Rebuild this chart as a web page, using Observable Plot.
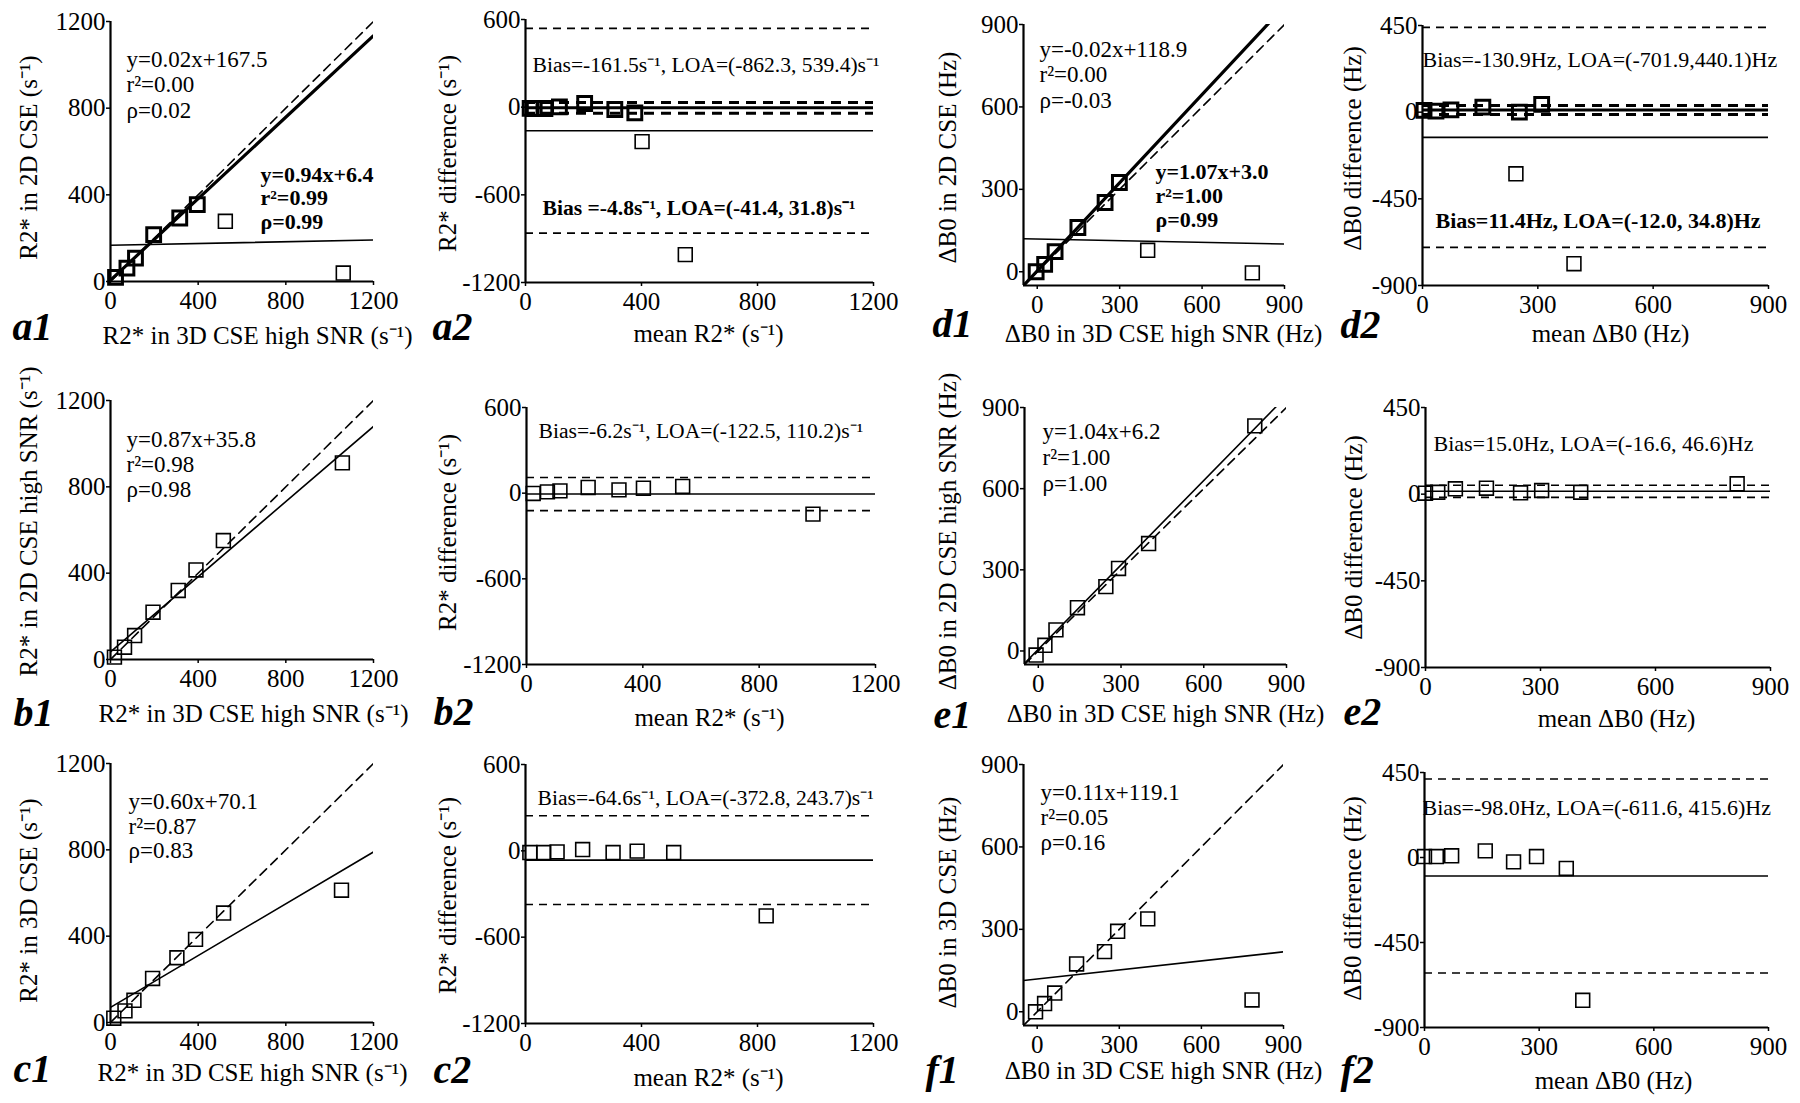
<!DOCTYPE html>
<html><head><meta charset="utf-8">
<script src="https://cdn.jsdelivr.net/npm/d3@7"></script>
<script src="https://cdn.jsdelivr.net/npm/@observablehq/plot@0.6"></script>
<style>
body{margin:0;background:#fff;}
#root{position:relative;width:1800px;height:1103px;overflow:hidden;background:#fff;}
#root svg{position:absolute;}
</style></head><body><div id="root"></div>
<script>
// ---------------- data ----------------
const r2Ticks = [0, 400, 800, 1200];
const r2DiffTicks = [-1200, -600, 0, 600];
const b0Ticks = [0, 300, 600, 900];
const b0DiffTicks = [-900, -450, 0, 450];

// a1: R2* 2D CSE vs 3D CSE high SNR
const a1_x = [23, 75, 114, 197, 316, 396, 524, 1062];
const a1_y = [19, 62, 108, 216, 293, 355, 278, 39];
const a1_bold = [1, 1, 1, 1, 1, 1, 0, 0];
const a1_fitAll = [0.02, 167.5];
const a1_fitBold = [0.94, 6.4];
// a2
const a2_mean = [16, 30, 67, 117, 204, 308, 377, 402, 551];
const a2_diff = [-8, -9, -9, 2, 25, -16, -39, -236, -1009];
const a2_bold = [1, 1, 1, 1, 1, 1, 1, 0, 0];
const a2_statsAll = [-161.5, -862.3, 539.4];
const a2_statsBold = [-4.8, -41.4, 31.8];
// d1
const d1_x = [-4, 27, 65, 148, 247, 299, 402, 783];
const d1_y = [0, 27, 73, 161, 252, 325, 78, -4];
const d1_bold = [1, 1, 1, 1, 1, 1, 0, 0];
const d1_fitAll = [-0.02, 118.9];
const d1_fitBold = [1.07, 3.0];
// d2
const d2_mean = [4, 35, 74, 157, 252, 310, 243, 394];
const d2_diff = [9, 5, 12, 26, 0, 40, -320, -787];
const d2_bold = [1, 1, 1, 1, 1, 1, 0, 0];
const d2_statsAll = [-130.9, -701.9, 440.1];
const d2_statsBold = [11.4, -12.0, 34.8];
// b1
const b1_x = [18, 64, 110, 194, 309, 390, 515, 1058];
const b1_y = [11, 57, 111, 219, 320, 415, 551, 911];
const b1_fit = [0.87, 35.8];
// b2
const b2_mean = [23, 72, 115, 212, 318, 402, 537, 985];
const b2_diff = [-2, 9, 16, 40, 23, 35, 47, -147];
const b2_stats = [-6.2, -122.5, 110.2];
// e1
const e1_x = [-8, 24, 64, 142, 245, 291, 400, 785];
const e1_y = [-15, 21, 78, 160, 238, 305, 397, 832];
const e1_fit = [1.04, 6.2];
// e2
const e2_mean = [0, 32, 78, 159, 248, 303, 405, 813];
const e2_diff = [5, 10, 28, 31, 7, 19, 10, 54];
const e2_stats = [15.0, -16.6, 46.6];
// c1
const c1_x = [15, 66, 107, 192, 303, 388, 516, 1054];
const c1_y = [20, 54, 103, 204, 300, 385, 507, 613];
const c1_fit = [0.60, 70.1];
// c2
const c2_mean = [15, 63, 109, 197, 302, 385, 511, 830];
const c2_diff = [-12, -12, -7, 9, -12, -2, -12, -452];
const c2_stats = [-64.6, -372.8, 243.7];
// f1
const f1_x = [-6, 27, 64, 144, 246, 294, 404, 785];
const f1_y = [0, 30, 68, 174, 219, 293, 338, 43];
const f1_fit = [0.11, 119.1];
// f2
const f2_mean = [0, 31, 71, 159, 233, 293, 371, 414];
const f2_diff = [5, 5, 9, 35, -23, 5, -58, -756];
const f2_stats = [-98.0, -611.6, 415.6];

// ---------------- rendering ----------------
const FONT = '"Liberation Serif","Times New Roman",Times,serif';
const root = document.getElementById("root");
const ML = 130, MR = 80, MT = 40, MB = 100;
const fmt = d => String(d);

function render(spec, dataMarks) {
  const [l, r, t, b] = spec.frame;
  const marks = [
    Plot.axisX({ticks: spec.xTicks, tickSize: 4, tickPadding: 6, tickFormat: fmt, label: null, fontSize: 25, strokeWidth: 1.5}),
    Plot.axisY({ticks: spec.yTicks, tickSize: 4, tickPadding: 1, tickFormat: fmt, label: null, fontSize: 25, strokeWidth: 1.5}),
    ...dataMarks,
    Plot.ruleX([spec.xDomain[0]], {strokeWidth: 2.2}),
    Plot.ruleY([spec.yDomain[0]], {strokeWidth: 2.2}),
    Plot.text([spec.xTitle], {text: d => d, frameAnchor: "bottom", textAnchor: "middle", lineAnchor: "middle",
      dx: spec.xt[0] - (l + r) / 2, dy: spec.xt[1] - b, fontSize: 25}),
    Plot.text([spec.yTitle], {text: d => d, frameAnchor: "left", textAnchor: "middle", lineAnchor: "middle", rotate: -90,
      dx: spec.yt[0] - l, dy: spec.yt[1] - (t + b) / 2, fontSize: 25}),
    Plot.text([spec.id], {text: d => d, frameAnchor: "bottom-left", textAnchor: "start", lineAnchor: "middle",
      dx: spec.lab[0] - l, dy: spec.lab[1] - b, fontSize: 40, fontWeight: "bold", fontStyle: "italic"})
  ];
  for (const n of spec.notes) {
    marks.push(Plot.text([n.lines.join("\n")], {text: d => d, frameAnchor: "top-left", textAnchor: "start",
      lineAnchor: "top", lineHeight: (n.gap || 25) / n.fs, dx: n.pos[0] - l, dy: n.pos[1] - t - 0.38 * n.fs,
      fontSize: n.fs, fontWeight: n.bold ? "bold" : "normal"}));
  }
  const svg = Plot.plot({
    width: r - l + ML + MR, height: b - t + MT + MB,
    marginLeft: ML, marginRight: MR, marginTop: MT, marginBottom: MB,
    x: {domain: spec.xDomain}, y: {domain: spec.yDomain},
    style: {fontFamily: FONT, fontSize: "25px", background: "transparent", overflow: "visible", color: "black"},
    marks
  });
  svg.style.left = (l - ML) + "px";
  svg.style.top = (t - MT) + "px";
  root.appendChild(svg);
}

const dots = (xs, ys, flags, wantBold) => xs.map((x, i) => ({x, y: ys[i], b: flags ? flags[i] : 0}))
  .filter(d => wantBold ? d.b === 1 : d.b !== 1);
const squares = (pts, sw) => Plot.dot(pts, {x: "x", y: "y", symbol: "square", r: 7.8, stroke: "black", fill: "none", strokeWidth: sw});
const fitLine = (fit, dom, sw) => Plot.line(dom.map(v => ({x: v, y: fit[0] * v + fit[1]})), {x: "x", y: "y", stroke: "black", strokeWidth: sw, clip: true});
const identity = dom => Plot.line(dom.map(v => ({x: v, y: v})), {x: "x", y: "y", stroke: "black", strokeWidth: 1.6, strokeDasharray: "9,6", clip: true});
const baRules = (stats, sw) => [
  Plot.ruleY([stats[0]], {stroke: "black", strokeWidth: sw}),
  Plot.ruleY([stats[1], stats[2]], {stroke: "black", strokeWidth: sw, strokeDasharray: sw > 2 ? "10,7" : "8,6"})
];

function scatter(spec, xs, ys, flags, fits) {
  const marks = [identity(spec.xDomain)];
  for (const f of fits) marks.push(fitLine(f.fit, spec.xDomain, f.sw));
  marks.push(squares(dots(xs, ys, flags, false), 1.6));
  if (flags) marks.push(squares(dots(xs, ys, flags, true), 3));
  render(spec, marks);
}
function bland(spec, xs, ys, flags, statsSets) {
  const marks = [];
  for (const s of statsSets) marks.push(...baRules(s.stats, s.sw));
  marks.push(squares(dots(xs, ys, flags, false), 1.6));
  if (flags) marks.push(squares(dots(xs, ys, flags, true), 3));
  render(spec, marks);
}

const R2x = "R2* in 3D CSE high SNR (s\u207B\u00B9)";
const R2m = "mean R2* (s\u207B\u00B9)";
const R2d = "R2* difference (s\u207B\u00B9)";
const B0x = "\u0394B0 in 3D CSE high SNR (Hz)";
const B0m = "mean \u0394B0 (Hz)";
const B0d = "\u0394B0 difference (Hz)";
const fitText = (f, r2, rho) => [`y=${f[0].toFixed(2)}x${f[1] < 0 ? "-" : "+"}${Math.abs(f[1]).toFixed(1)}`, `r\u00B2=${r2}`, `\u03C1=${rho}`];
const biasR2 = (s, sp) => `Bias${sp || ""}=${s[0].toFixed(1)}s\u207B\u00B9, LOA=(${s[1].toFixed(1)}, ${s[2].toFixed(1)})s\u207B\u00B9`;
const biasHz = (s, sep) => `Bias=${s[0].toFixed(1)}Hz, LOA=(${s[1].toFixed(1)},${sep}${s[2].toFixed(1)})Hz`;

// Row 1
scatter({id: "a1", frame: [110, 373, 21, 281], xDomain: [0, 1200], yDomain: [0, 1200], xTicks: r2Ticks, yTicks: r2Ticks,
  xTitle: R2x, yTitle: "R2* in 2D CSE (s\u207B\u00B9)", xt: [257, 335], yt: [28, 157], lab: [12, 327],
  notes: [{lines: fitText(a1_fitAll, "0.00", "0.02"), pos: [126, 57], fs: 23, gap: 25.5},
          {lines: fitText(a1_fitBold, "0.99", "0.99"), pos: [260, 173], fs: 22, gap: 23.5, bold: true}]},
  a1_x, a1_y, a1_bold, [{fit: a1_fitAll, sw: 1.6}, {fit: a1_fitBold, sw: 3.2}]);

bland({id: "a2", frame: [525, 873, 19, 282], xDomain: [0, 1200], yDomain: [-1200, 600], xTicks: r2Ticks, yTicks: r2DiffTicks,
  xTitle: R2m, yTitle: R2d, xt: [708, 333], yt: [447, 153], lab: [432, 327],
  notes: [{lines: [biasR2(a2_statsAll)], pos: [532, 62], fs: 21.6},
          {lines: [biasR2(a2_statsBold, " ")], pos: [542, 205], fs: 21.6, bold: true}]},
  a2_mean, a2_diff, a2_bold, [{stats: a2_statsAll, sw: 1.6}, {stats: a2_statsBold, sw: 3}]);

scatter({id: "d1", frame: [1023, 1284, 24, 285], xDomain: [-50, 900], yDomain: [-50, 900], xTicks: b0Ticks, yTicks: b0Ticks,
  xTitle: B0x, yTitle: "\u0394B0 in 2D CSE (Hz)", xt: [1163, 333], yt: [947, 157], lab: [932, 324],
  notes: [{lines: fitText(d1_fitAll, "0.00", "-0.03"), pos: [1039, 47], fs: 23, gap: 25.5},
          {lines: fitText(d1_fitBold, "1.00", "0.99"), pos: [1155, 170], fs: 22, gap: 24, bold: true}]},
  d1_x, d1_y, d1_bold, [{fit: d1_fitAll, sw: 1.6}, {fit: d1_fitBold, sw: 3.2}]);

bland({id: "d2", frame: [1422, 1768, 25, 285], xDomain: [0, 900], yDomain: [-900, 450], xTicks: b0Ticks, yTicks: b0DiffTicks,
  xTitle: B0m, yTitle: B0d, xt: [1610, 333], yt: [1352, 148], lab: [1340, 325],
  notes: [{lines: [biasHz(d2_statsAll, "")], pos: [1422, 57], fs: 22},
          {lines: [biasHz(d2_statsBold, " ")], pos: [1435, 218], fs: 22, bold: true}]},
  d2_mean, d2_diff, d2_bold, [{stats: d2_statsAll, sw: 1.6}, {stats: d2_statsBold, sw: 3}]);

// Row 2
scatter({id: "b1", frame: [110, 373, 400, 659], xDomain: [0, 1200], yDomain: [0, 1200], xTicks: r2Ticks, yTicks: r2Ticks,
  xTitle: R2x, yTitle: "R2* in 2D CSE high SNR (s\u207B\u00B9)", xt: [253, 713], yt: [28, 521], lab: [13, 713],
  notes: [{lines: fitText(b1_fit, "0.98", "0.98"), pos: [126, 437], fs: 23, gap: 25}]},
  b1_x, b1_y, null, [{fit: b1_fit, sw: 1.6}]);

bland({id: "b2", frame: [526, 875, 407, 664], xDomain: [0, 1200], yDomain: [-1200, 600], xTicks: r2Ticks, yTicks: r2DiffTicks,
  xTitle: R2m, yTitle: R2d, xt: [709, 717], yt: [447, 532], lab: [433, 712],
  notes: [{lines: [biasR2(b2_stats)], pos: [538, 428], fs: 21.6}]},
  b2_mean, b2_diff, null, [{stats: b2_stats, sw: 1.6}]);

scatter({id: "e1", frame: [1024, 1286, 407, 664], xDomain: [-50, 900], yDomain: [-50, 900], xTicks: b0Ticks, yTicks: b0Ticks,
  xTitle: B0x, yTitle: "\u0394B0 in 2D CSE high SNR (Hz)", xt: [1165, 713], yt: [947, 531], lab: [933, 715],
  notes: [{lines: fitText(e1_fit, "1.00", "1.00"), pos: [1042, 429], fs: 23, gap: 26}]},
  e1_x, e1_y, null, [{fit: e1_fit, sw: 1.6}]);

bland({id: "e2", frame: [1425, 1770, 407, 667], xDomain: [0, 900], yDomain: [-900, 450], xTicks: b0Ticks, yTicks: b0DiffTicks,
  xTitle: B0m, yTitle: B0d, xt: [1616, 718], yt: [1353, 537], lab: [1343, 712],
  notes: [{lines: [biasHz(e2_stats, " ")], pos: [1433, 441], fs: 22}]},
  e2_mean, e2_diff, null, [{stats: e2_stats, sw: 1.6}]);

// Row 3
scatter({id: "c1", frame: [110, 373, 763, 1022], xDomain: [0, 1200], yDomain: [0, 1200], xTicks: r2Ticks, yTicks: r2Ticks,
  xTitle: R2x, yTitle: "R2* in 3D CSE (s\u207B\u00B9)", xt: [252, 1072], yt: [28, 900], lab: [13, 1069],
  notes: [{lines: fitText(c1_fit, "0.87", "0.83"), pos: [128, 800], fs: 23, gap: 24.5}]},
  c1_x, c1_y, null, [{fit: c1_fit, sw: 1.6}]);

bland({id: "c2", frame: [525, 873, 764, 1023], xDomain: [0, 1200], yDomain: [-1200, 600], xTicks: r2Ticks, yTicks: r2DiffTicks,
  xTitle: R2m, yTitle: R2d, xt: [708, 1077], yt: [447, 895], lab: [433, 1070],
  notes: [{lines: [biasR2(c2_stats)], pos: [537, 795], fs: 21.6}]},
  c2_mean, c2_diff, null, [{stats: c2_stats, sw: 1.6}]);

scatter({id: "f1", frame: [1023, 1283, 764, 1025], xDomain: [-50, 900], yDomain: [-50, 900], xTicks: b0Ticks, yTicks: b0Ticks,
  xTitle: B0x, yTitle: "\u0394B0 in 3D CSE (Hz)", xt: [1163, 1070], yt: [947, 902], lab: [925, 1070],
  notes: [{lines: fitText(f1_fit, "0.05", "0.16"), pos: [1040, 790], fs: 23, gap: 25}]},
  f1_x, f1_y, null, [{fit: f1_fit, sw: 1.6}]);

bland({id: "f2", frame: [1424, 1768, 772, 1027], xDomain: [0, 900], yDomain: [-900, 450], xTicks: b0Ticks, yTicks: b0DiffTicks,
  xTitle: B0m, yTitle: B0d, xt: [1613, 1080], yt: [1352, 898], lab: [1340, 1070],
  notes: [{lines: [biasHz(f2_stats, " ")], pos: [1422, 805], fs: 22}]},
  f2_mean, f2_diff, null, [{stats: f2_stats, sw: 1.6}]);
</script></body></html>
